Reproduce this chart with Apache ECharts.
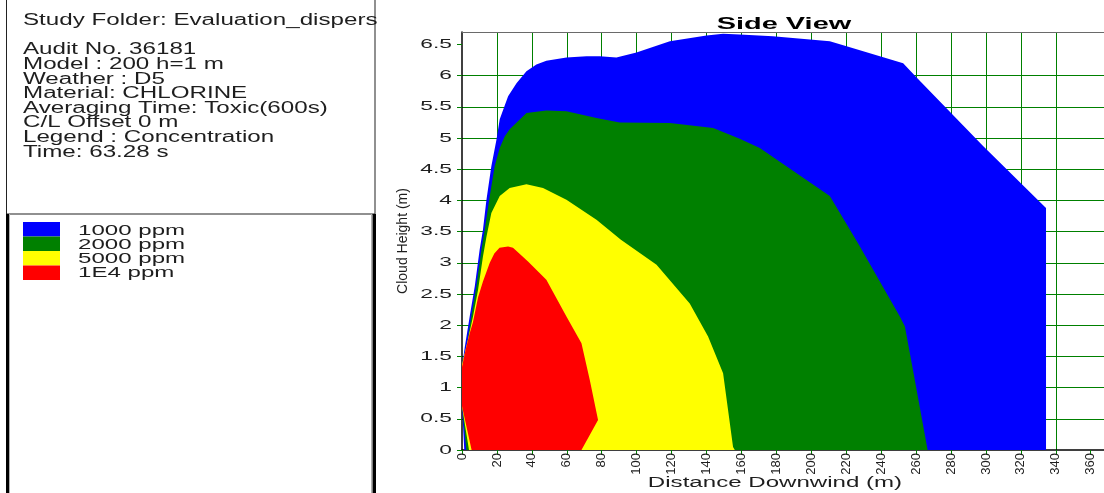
<!DOCTYPE html>
<html><head><meta charset="utf-8">
<script src="https://cdn.jsdelivr.net/npm/echarts@6/dist/echarts.min.js"></script>
<style>html,body{margin:0;padding:0;background:#fff;overflow:hidden}#c{width:1104px;height:493px}</style>
</head><body><div id="c"></div>
<script>
// ---- data ----
const infoLines = [
  'Study Folder: Evaluation_dispers',
  'Audit No. 36181',
  'Model : 200 h=1 m',
  'Weather : D5',
  'Material: CHLORINE',
  'Averaging Time: Toxic(600s)',
  'C/L Offset 0 m',
  'Legend : Concentration',
  'Time: 63.28 s'
];
const legendLabels = ['1000 ppm', '2000 ppm', '5000 ppm', '1E4 ppm'];
const legendColors = ['#0000ff', '#008000', '#ffff00', '#ff0000'];
const xTicks = [0,20,40,60,80,100,120,140,160,180,200,220,240,260,280,300,320,340,360];
const yTicks = [0,0.5,1,1.5,2,2.5,3,3.5,4,4.5,5,5.5,6,6.5];
const yTickLabels = ['0','0.5','1','1.5','2','2.5','3','3.5','4','4.5','5','5.5','6','6.5'];

// contour outlines [distance m, height m]
const contour1000 = [[1.3,0],[0,0.72],[0,1.33],[1.5,1.63],[4.4,2.14],[7.3,2.62],[10.1,3.21],[12,3.53],[14,4.01],[16.8,4.55],[19.7,4.97],[21.6,5.30],[26.4,5.67],[31.2,5.88],[36.9,6.07],[42.6,6.18],[48.3,6.24],[59.8,6.29],[71.3,6.31],[78.9,6.31],[88.4,6.29],[99.9,6.37],[119,6.55],[140,6.645],[149.5,6.67],[159,6.66],[178,6.63],[210.6,6.55],[220.2,6.47],[252.6,6.2],[260.3,5.97],[298.5,4.87],[334.4,3.88],[334.4,0]];
const contour2000 = [[2.5,0],[0,0.72],[0,1.35],[2.5,1.63],[5.3,2.14],[8.2,2.62],[11.1,3.21],[13,3.53],[15.9,4.07],[18.7,4.55],[21.6,4.84],[24.5,5.03],[27.3,5.14],[36.9,5.40],[48.3,5.44],[59.8,5.43],[77,5.32],[90.3,5.25],[119,5.24],[143.8,5.16],[159,4.99],[170.5,4.84],[210.6,4.07],[227,3.3],[250.7,2.14],[253.6,1.98],[259.3,1.12],[266.6,0]];
const contour5000 = [[4,0],[0,0.7],[0,1.37],[3.4,1.77],[6.3,2.14],[9.2,2.57],[12,3.10],[14,3.42],[16.8,3.80],[21.6,4.07],[27.3,4.20],[36.9,4.26],[46.4,4.20],[59.8,4.01],[77,3.69],[91,3.37],[111.4,2.97],[130.4,2.35],[140.9,1.82],[149.5,1.23],[155.2,0.05],[156.2,0]];
const contour1E4 = [[5.5,0],[0,0.7],[0,1.33],[2,1.6],[4.2,1.85],[6.3,2.05],[9.2,2.45],[12,2.7],[15.9,3.0],[18.5,3.15],[21.5,3.24],[26.4,3.26],[29.2,3.24],[37.8,3.02],[48.3,2.73],[59.8,2.14],[68.4,1.71],[73.2,1.12],[77.9,0.48],[68.4,0]];

// ---- chart ----
const FONT = '"Liberation Sans", Arial, sans-serif';
const chart = echarts.init(document.getElementById('c'), null, {renderer: 'canvas', devicePixelRatio: 1});

function polySeries(name, pts, color) {
  return {
    type: 'custom', name: name, coordinateSystem: 'cartesian2d',
    xAxisIndex: 0, yAxisIndex: 0, silent: true, clip: true,
    data: pts, encode: {x: 0, y: 1},
    renderItem: function (params, api) {
      if (params.dataIndex !== 0) return null;
      return {type: 'polygon', shape: {points: pts.map(function (p) { return api.coord(p); })},
              style: {fill: color, stroke: null}};
    }
  };
}

function txt(x, y, text, font, scaleX, align, extra) {
  return {type: 'text', x: x, y: y, scaleX: scaleX, silent: true,
    style: Object.assign({text: text, font: font, fill: '#1e1e1e',
      align: align, textAlign: align, verticalAlign: 'middle', textVerticalAlign: 'middle'}, extra || {})};
}

const graphics = [];
// left panel frames
graphics.push({type: 'rect', silent: true, shape: {x: 6, y: 0, width: 1, height: 214}, style: {fill: '#222'}});
graphics.push({type: 'rect', silent: true, shape: {x: 374.5, y: 0, width: 1, height: 214}, style: {fill: '#222'}});
graphics.push({type: 'rect', silent: true, shape: {x: 6, y: 213.5, width: 369, height: 1}, style: {fill: '#222'}});
graphics.push({type: 'rect', silent: true, shape: {x: 6, y: 214, width: 3, height: 279}, style: {fill: '#000'}});
graphics.push({type: 'rect', silent: true, shape: {x: 9, y: 214, width: 1, height: 279}, style: {fill: '#b0b0b0'}});
graphics.push({type: 'rect', silent: true, shape: {x: 371, y: 214, width: 1, height: 279}, style: {fill: '#b0b0b0'}});
graphics.push({type: 'rect', silent: true, shape: {x: 372.5, y: 214, width: 3.5, height: 279}, style: {fill: '#000'}});
// info text
infoLines.forEach(function (s, i) {
  const y = i === 0 ? 21 : 50 + (i - 1) * 14.6;
  graphics.push(txt(23, y, s, '16px ' + FONT, 1.51, 'left'));
});
// legend
legendLabels.forEach(function (s, i) {
  graphics.push({type: 'rect', silent: true, shape: {x: 23, y: 222 + i * 14.5, width: 37, height: 14.5}, style: {fill: legendColors[i]}});
  graphics.push(txt(78, 231 + i * 14.2, s, '14px ' + FONT, 1.72, 'left'));
});
// title and x axis name
graphics.push(txt(784, 24, 'Side View', 'bold 17px ' + FONT, 1.7, 'center', {fill: '#000'}));
graphics.push(txt(775, 483, 'Distance Downwind (m)', '14px ' + FONT, 1.72, 'center'));

const XMAX = 367.6;
const option = {
  animation: false,
  backgroundColor: '#ffffff',
  grid: {left: 462, top: 32, bottom: 43, right: 0, containLabel: false},
  xAxis: [{
    type: 'value', min: 0, max: XMAX, interval: 20, position: 'bottom',
    axisLine: {show: true, onZero: false, lineStyle: {color: '#000', width: 1.5}},
    axisTick: {show: true, length: 4, lineStyle: {color: '#008000'}, customValues: xTicks},
    axisLabel: {rotate: 90, margin: 3, fontSize: 13, fontFamily: FONT, color: '#1e1e1e',
      customValues: xTicks},
    splitLine: {show: true, showMaxLine: false, showMinLine: false, lineStyle: {color: '#008000', width: 1}}
  }, {
    type: 'value', min: 0, max: XMAX, interval: 20, position: 'top',
    axisLine: {show: true, onZero: false, lineStyle: {color: '#6a6a6a', width: 1}},
    axisTick: {show: false}, axisLabel: {show: false}, splitLine: {show: false}
  }],
  yAxis: [{
    type: 'value', min: 0, max: 6.7, interval: 0.5,
    name: 'Cloud Height (m)', nameLocation: 'middle', nameGap: 52, nameRotate: 90,
    nameTextStyle: {fontSize: 14, fontFamily: FONT, color: '#1e1e1e'},
    axisLine: {show: true, onZero: false, lineStyle: {color: '#000', width: 1.5}},
    axisTick: {show: true, length: 5, lineStyle: {color: '#008000'}, customValues: yTicks},
    axisLabel: {show: false},
    splitLine: {show: true, showMaxLine: false, showMinLine: false, lineStyle: {color: '#008000', width: 1}}
  }],
  graphic: graphics,
  series: [
    polySeries('1000 ppm', contour1000, legendColors[0]),
    polySeries('2000 ppm', contour2000, legendColors[1]),
    polySeries('5000 ppm', contour5000, legendColors[2]),
    polySeries('1E4 ppm', contour1E4, legendColors[3]),
    {
      type: 'custom', name: 'yLabels', coordinateSystem: 'cartesian2d', silent: true, clip: false,
      data: yTicks.map(function (v) { return [0, v]; }), encode: {x: 0, y: 1},
      renderItem: function (params, api) {
        const p = api.coord([0, api.value(1)]);
        return {type: 'text', x: p[0] - 10, y: p[1], scaleX: 1.75,
          style: {text: yTickLabels[params.dataIndex], font: '13px ' + FONT, fill: '#1e1e1e',
            align: 'right', textAlign: 'right', verticalAlign: 'middle', textVerticalAlign: 'middle'}};
      }
    }
  ]
};
chart.setOption(option);
</script>
</body></html>
